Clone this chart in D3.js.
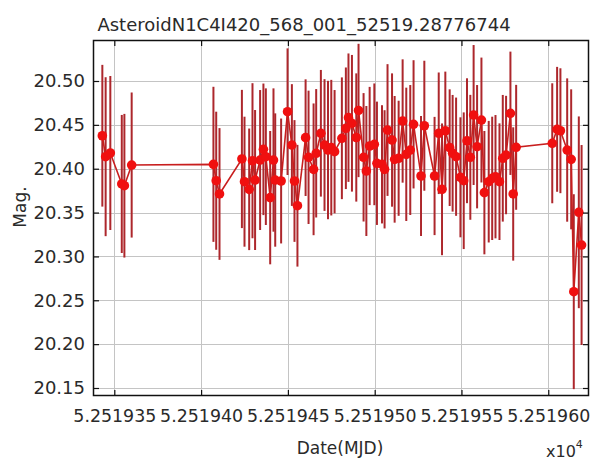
<!DOCTYPE html>
<html>
<head>
<meta charset="utf-8">
<script src="https://cdn.jsdelivr.net/npm/d3@7"></script>
<style>
  html, body { margin: 0; padding: 0; background: #fff; }
  svg { display: block; }
  text { font-family: "DejaVu Sans", sans-serif; fill: #2a2a2a; }
</style>
</head>
<body>
<svg id="chart" width="590" height="461"></svg>
<script>
// Light curve: observation date (MJD), magnitude and its 1-sigma error
const mjd = [
  52519.3431, 52519.3450, 52519.3477, 52519.3543, 52519.3558, 52519.3600,
  52519.4071, 52519.4087, 52519.4106, 52519.4235, 52519.4250, 52519.4277, 52519.4296, 52519.4311,
  52519.4340, 52519.4359, 52519.4373, 52519.4398, 52519.4417, 52519.4427, 52519.4461, 52519.4498,
  52519.4523, 52519.4538, 52519.4555, 52519.4602, 52519.4619, 52519.4648, 52519.4663, 52519.4690,
  52519.4711, 52519.4731, 52519.4750, 52519.4769, 52519.4811, 52519.4834, 52519.4849, 52519.4869,
  52519.4894, 52519.4907, 52519.4936, 52519.4952, 52519.4971, 52519.4998, 52519.5013, 52519.5042,
  52519.5057, 52519.5074, 52519.5100, 52519.5115, 52519.5138, 52519.5161, 52519.5182, 52519.5205,
  52519.5224, 52519.5267, 52519.5286, 52519.5345, 52519.5369, 52519.5388, 52519.5407, 52519.5432,
  52519.5449, 52519.5469, 52519.5494, 52519.5513, 52519.5532, 52519.5551, 52519.5570, 52519.5590,
  52519.5615, 52519.5632, 52519.5657, 52519.5677, 52519.5696, 52519.5719, 52519.5738, 52519.5757,
  52519.5782, 52519.5798, 52519.5815,
  52519.6023, 52519.6051, 52519.6070, 52519.6109, 52519.6132, 52519.6147, 52519.6176, 52519.6192
];
const mag = [
  20.4376, 20.4137, 20.4179, 20.3826, 20.3806, 20.4042,
  20.4050, 20.3863, 20.3712, 20.4111, 20.3852, 20.3765, 20.4091, 20.3871,
  20.4099, 20.4221, 20.4137, 20.3670, 20.4099, 20.3871, 20.3860, 20.4650,
  20.4270, 20.3860, 20.3578, 20.4354, 20.4130, 20.3993, 20.4176, 20.4404,
  20.4270, 20.4213, 20.4240, 20.4194, 20.4347, 20.4461, 20.4582, 20.4518,
  20.4356, 20.4664, 20.4130, 20.3974, 20.4259, 20.4278, 20.4062, 20.4050,
  20.3993, 20.4441, 20.4327, 20.4107, 20.4119, 20.4544, 20.4164, 20.4213,
  20.4506, 20.3917, 20.4490, 20.3917, 20.4404, 20.3765, 20.4433, 20.4240,
  20.4176, 20.4137, 20.3902, 20.3863, 20.4319, 20.4130, 20.4612, 20.4251,
  20.4555, 20.3727, 20.3852, 20.3890, 20.3909, 20.3852, 20.4119, 20.4156,
  20.4632, 20.3712, 20.4244,
  20.4290, 20.4449, 20.4433, 20.4213, 20.4107, 20.2598, 20.3503, 20.3130
];
const err = [
  0.0808, 0.0906, 0.0878, 0.0787, 0.0819, 0.0827,
  0.0884, 0.0787, 0.0751, 0.0788, 0.0741, 0.0693, 0.0884, 0.0798,
  0.0798, 0.0750, 0.0779, 0.0760, 0.0817, 0.0760, 0.0712, 0.0722,
  0.0694, 0.0694, 0.0694, 0.0665, 0.0760, 0.0751, 0.0732, 0.0722,
  0.0751, 0.0789, 0.0773, 0.0703, 0.0694, 0.0693, 0.0732, 0.0779,
  0.0731, 0.0760, 0.0732, 0.0741, 0.0674, 0.0694, 0.0703, 0.0674,
  0.0674, 0.0751, 0.0760, 0.0722, 0.0656, 0.0703, 0.0760, 0.0741,
  0.0731, 0.0684, 0.0741, 0.0674, 0.0693, 0.0751, 0.0674, 0.0665,
  0.0665, 0.0674, 0.0684, 0.0779, 0.0712, 0.0712, 0.0798, 0.0703,
  0.0712, 0.0703, 0.0693, 0.0703, 0.0703, 0.0665, 0.0722, 0.0675,
  0.0703, 0.0760, 0.0712,
  0.0684, 0.0712, 0.0712, 0.0817, 0.0798, 0.1111, 0.1093, 0.1140
];

// Axis ticks (date axis labels are shown in units of 1e4 days)
const xTicks = [52519.35, 52519.40, 52519.45, 52519.50, 52519.55, 52519.60];
const xTickLabels = ["5.251935", "5.251940", "5.251945", "5.251950", "5.251955", "5.251960"];
const yTicks = [20.15, 20.20, 20.25, 20.30, 20.35, 20.40, 20.45, 20.50];
const yTickLabels = ["20.15", "20.20", "20.25", "20.30", "20.35", "20.40", "20.45", "20.50"];

const title = "AsteroidN1C4I420_568_001_52519.28776744";

const plot = { left: 93, right: 589, top: 40, bottom: 396 };

const x = d3.scaleLinear().domain([52519.33772, 52519.62347]).range([plot.left, plot.right]);
const y = d3.scaleLinear().domain([20.14088, 20.54674]).range([plot.bottom, plot.top]);

const points = mjd.map((t, i) => ({ t, m: mag[i], e: err[i] }));

const svg = d3.select("#chart");

svg.append("defs").append("clipPath").attr("id", "plotClip")
  .append("rect")
  .attr("x", plot.left).attr("y", plot.top)
  .attr("width", plot.right - plot.left).attr("height", plot.bottom - plot.top);

// Grid
const grid = svg.append("g").attr("class", "grid");
grid.selectAll("line.gx").data(xTicks).join("line")
  .attr("x1", d => Math.round(x(d)) + 0.5).attr("x2", d => Math.round(x(d)) + 0.5)
  .attr("y1", plot.top).attr("y2", plot.bottom)
  .attr("stroke", "#c4c4c4").attr("stroke-width", 1);
grid.selectAll("line.gy").data(yTicks).join("line")
  .attr("y1", d => Math.round(y(d)) + 0.5).attr("y2", d => Math.round(y(d)) + 0.5)
  .attr("x1", plot.left).attr("x2", plot.right)
  .attr("stroke", "#c4c4c4").attr("stroke-width", 1);

const marks = svg.append("g").attr("clip-path", "url(#plotClip)");

// Error bars
marks.append("g").selectAll("line").data(points).join("line")
  .attr("x1", d => x(d.t)).attr("x2", d => x(d.t))
  .attr("y1", d => y(d.m + d.e)).attr("y2", d => y(d.m - d.e))
  .attr("stroke", "#ad272c").attr("stroke-width", 2);

// Connecting line
marks.append("path").datum(points)
  .attr("fill", "none")
  .attr("stroke", "#c81e1e").attr("stroke-width", 1.6)
  .attr("d", d3.line().x(d => x(d.t)).y(d => y(d.m)));

// Markers
marks.append("g").selectAll("circle").data(points).join("circle")
  .attr("cx", d => x(d.t)).attr("cy", d => y(d.m)).attr("r", 4.8)
  .attr("fill", "#f01010");

// Axes (ticks pointing inwards on all four sides)
const axB = d3.axisBottom(x).tickValues(xTicks).tickSize(-6).tickSizeOuter(0).tickFormat((d, i) => xTickLabels[i]);
const axT = d3.axisTop(x).tickValues(xTicks).tickSize(-6).tickSizeOuter(0).tickFormat("");
const axL = d3.axisLeft(y).tickValues(yTicks).tickSize(-6).tickSizeOuter(0).tickFormat((d, i) => yTickLabels[i]);
const axR = d3.axisRight(y).tickValues(yTicks).tickSize(-6).tickSizeOuter(0).tickFormat("");

function style(g, size) {
  g.select(".domain").remove();
  g.selectAll(".tick line").attr("stroke", "#111").attr("stroke-width", 1.2);
  g.selectAll(".tick text").attr("fill", "#2a2a2a").style("font-family", "DejaVu Sans, sans-serif").style("font-size", size);
}

svg.append("g").attr("transform", `translate(0,${plot.bottom})`).call(axB).call(style, "17.4px")
  .selectAll(".tick text").attr("y", 14).attr("dy", "0.71em");
svg.append("g").attr("transform", `translate(0,${plot.top})`).call(axT).call(style, "18px");
svg.append("g").attr("transform", `translate(${plot.left},0)`).call(axL).call(style, "18px")
  .selectAll(".tick text").attr("x", -8);
svg.append("g").attr("transform", `translate(${plot.right},0)`).call(axR).call(style, "18px");

// Frame
svg.append("rect")
  .attr("x", plot.left + 0.5).attr("y", plot.top + 0.5)
  .attr("width", plot.right - plot.left - 1).attr("height", plot.bottom - plot.top - 1)
  .attr("fill", "none").attr("stroke", "#111").attr("stroke-width", 1.5);

// Titles
svg.append("text").attr("x", 304).attr("y", 31).attr("text-anchor", "middle")
  .style("font-size", "18px").text(title);

svg.append("text").attr("x", 340).attr("y", 454).attr("text-anchor", "middle")
  .style("font-size", "17px").text("Date(MJD)");

svg.append("text").attr("transform", "translate(26,207) rotate(-90)").attr("text-anchor", "middle")
  .style("font-size", "17px").text("Mag.");

const exp = svg.append("text").attr("x", 546).attr("y", 457).style("font-size", "16px");
exp.append("tspan").text("x10");
exp.append("tspan").attr("dy", -9).style("font-size", "11px").text("4");
</script>
</body>
</html>
